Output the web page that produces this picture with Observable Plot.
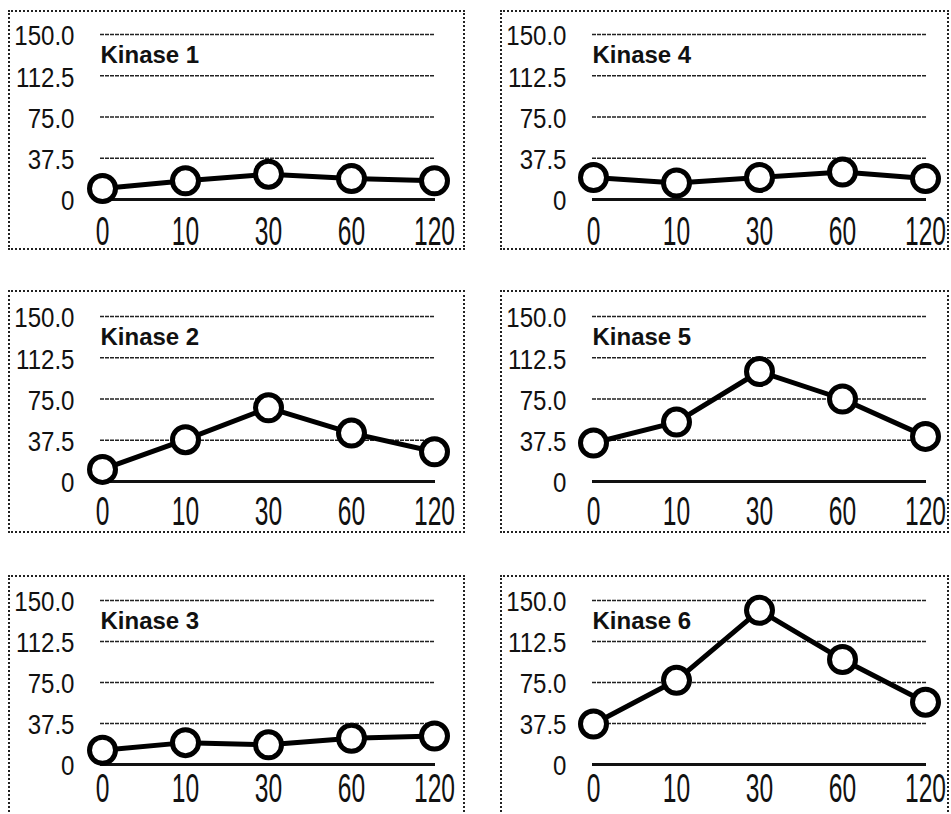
<!DOCTYPE html>
<html><head><meta charset="utf-8">
<script src="https://cdn.jsdelivr.net/npm/d3@7"></script>
<script src="https://cdn.jsdelivr.net/npm/@observablehq/plot@0.6"></script>
<style>
html,body{margin:0;padding:0;background:#fff;}
#fig{position:relative;width:951px;height:814px;overflow:hidden;background:#fff;}
.panel{position:absolute;border:2px dotted #222;box-sizing:border-box;background:#fff;}
.panel svg{display:block;overflow:visible;}
</style></head><body><div id="fig"></div>
<script>
// ---- data ----
const times = ["0", "10", "30", "60", "120"];
const yTicks = [0, 37.5, 75, 112.5, 150];
const kinaseNames = ["Kinase 1", "Kinase 2", "Kinase 3", "Kinase 4", "Kinase 5", "Kinase 6"];
const kinase1 = [10, 17, 23, 19, 17];
const kinase2 = [11, 38, 67, 44, 27];
const kinase3 = [13, 20, 18, 24, 26];
const kinase4 = [20, 15, 20, 25, 19];
const kinase5 = [35, 54, 100, 75, 41];
const kinase6 = [37, 77, 141, 96, 57];
const series = [kinase1, kinase2, kinase3, kinase4, kinase5, kinase6];

// ---- layout ----
const colLeft = [8, 500], colWidth = [457, 449], colMarginRight = [28, 21];
const rowTop = [10, 290, 575], rowHeight = [240, 243, 245];
const rowMarginTop = [22, 24, 23], rowMarginBottom = [49, 50, 54];
const rowTickPadding = [17, 15, 9];
const sans = "'Liberation Sans',Arial,sans-serif";

function squeeze(svg, selector, sx, sy) {
  svg.querySelectorAll(selector).forEach(t => {
    const tr = t.getAttribute("transform");
    if (tr) t.setAttribute("transform", tr + ` scale(${sx},${sy})`);
    else {
      const x = t.getAttribute("x") || 0, y = t.getAttribute("y") || 0;
      t.removeAttribute("x"); t.removeAttribute("y");
      t.setAttribute("transform", `translate(${x},${y}) scale(${sx},${sy})`);
    }
  });
}

const fig = document.getElementById("fig");
kinaseNames.forEach((name, i) => {
  const col = Math.floor(i / 3), row = i % 3;
  const data = times.map((t, j) => ({t, v: series[i][j]}));
  const div = document.createElement("div");
  div.className = "panel";
  div.style.left = colLeft[col] + "px";
  div.style.top = rowTop[row] + "px";
  div.style.width = colWidth[col] + "px";
  div.style.height = rowHeight[row] + "px";
  const svg = Plot.plot({
    width: colWidth[col] - 4,
    height: rowHeight[row] - 4,
    marginLeft: 90,
    marginRight: colMarginRight[col],
    marginTop: rowMarginTop[row],
    marginBottom: rowMarginBottom[row],
    x: {type: "point", domain: times, padding: 0},
    y: {domain: [0, 150]},
    style: {background: "transparent", color: "#111", fontFamily: sans},
    marks: [
      Plot.ruleY(yTicks.filter(d => d > 0), {stroke: "#222", strokeWidth: 1.5, strokeDasharray: "4,1"}),
      Plot.ruleY([0], {stroke: "#111", strokeWidth: 3}),
      Plot.axisY({ticks: yTicks, tickFormat: d => d === 0 ? "0" : d.toFixed(1), tickSize: 0, tickPadding: 26,
        fontSize: 28, fontFamily: sans, dy: 2, label: null}),
      Plot.axisX({tickSize: 0, tickPadding: rowTickPadding[row], fontSize: 30, fontFamily: sans, label: null}),
      Plot.text([name], {frameAnchor: "top-left", text: d => d, textAnchor: "start", lineAnchor: "top",
        dx: 0, dy: 11, fontSize: 24, fontWeight: "bold", fontFamily: sans, fill: "#111"}),
      Plot.line(data, {x: "t", y: "v", stroke: "#000", strokeWidth: 5}),
      Plot.dot(data, {x: "t", y: "v", r: 13, fill: "#fff", stroke: "#000", strokeWidth: 5})
    ]
  });
  squeeze(svg, 'g[aria-label="x-axis tick label"] text', 0.82, 1.35);
  squeeze(svg, 'g[aria-label="y-axis tick label"] text', 0.86, 1);
  div.appendChild(svg);
  fig.appendChild(div);
});
</script>
</body></html>
